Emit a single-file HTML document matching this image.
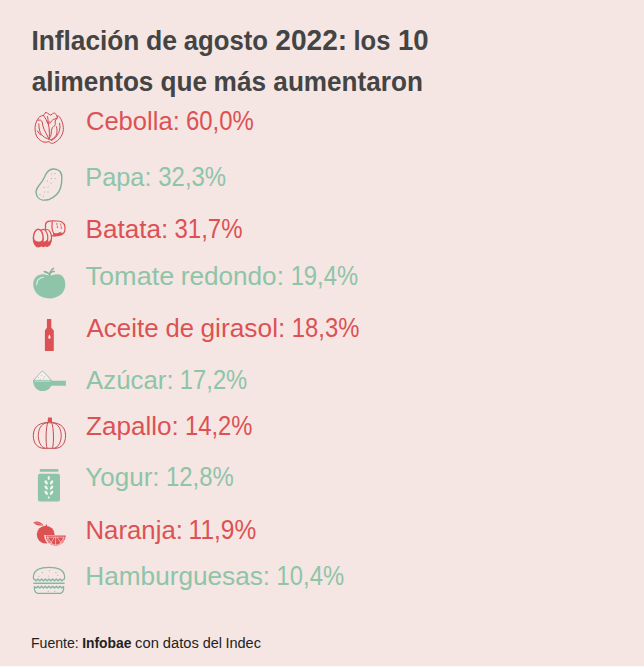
<!DOCTYPE html>
<html lang="es"><head><meta charset="utf-8"><title>Inflación de agosto 2022: los 10 alimentos que más aumentaron</title>
<style>
html,body{margin:0;padding:0}
body{width:644px;height:667px;background:#f5e6e3;position:relative;overflow:hidden;font-family:"Liberation Sans",Arial,sans-serif}
.w{position:absolute;left:0;top:0;white-space:nowrap;line-height:1;transform-origin:0 0;margin:0}
.h{font-size:28px;font-weight:700;color:#444}
.r{font-size:26.5px;color:#dc5254}
.g{font-size:26.5px;color:#8ec4a8}
.f{font-size:14px;color:#222}
.b{font-weight:700}
.ic{position:absolute;overflow:visible}
.row{position:absolute;left:0;top:0;margin:0;padding:0;font-size:14px;font-weight:400;line-height:1}
</style></head><body>
<h1 class="row"><span class="w h" style="transform:translate(31.40px,27.43px) scaleX(0.9380)">Inflación</span> <span class="w h" style="transform:translate(145.88px,27.43px) scaleX(0.9513)">de</span> <span class="w h" style="transform:translate(183.83px,27.43px) scaleX(0.9168)">agosto</span> <span class="w h" style="transform-origin:0 23.70px;transform:translate(275.32px,27.43px) scale(1.0028,1.050)">2022:</span> <span class="w h" style="transform:translate(353.44px,27.43px) scaleX(0.9118)">los</span> <span class="w h" style="transform-origin:0 23.70px;transform:translate(398.06px,27.43px) scale(0.9829,1.050)">10</span></h1>
<h1 class="row"><span class="w h" style="transform:translate(31.63px,68.28px) scaleX(0.9313)">alimentos</span> <span class="w h" style="transform:translate(160.56px,68.28px) scaleX(0.9347)">que</span> <span class="w h" style="transform:translate(213.60px,68.28px) scaleX(0.9373)">más</span> <span class="w h" style="transform:translate(273.37px,68.28px) scaleX(0.9331)">aumentaron</span></h1>
<div class="row"><span class="w r" style="transform:translate(85.90px,108.44px) scaleX(0.9659)">Cebolla:</span> <span class="w r" style="transform-origin:0 22.43px;transform:translate(185.89px,108.44px) scale(0.9040,1.045)">60,0%</span></div>
<div class="row"><span class="w g" style="transform:translate(85.35px,164.34px) scaleX(0.9540)">Papa:</span> <span class="w g" style="transform-origin:0 22.43px;transform:translate(158.28px,164.34px) scale(0.9032,1.045)">32,3%</span></div>
<div class="row"><span class="w r" style="transform:translate(85.48px,216.49px) scaleX(0.9872)">Batata:</span> <span class="w r" style="transform-origin:0 22.43px;transform:translate(174.46px,216.49px) scale(0.9058,1.045)">31,7%</span></div>
<div class="row"><span class="w g" style="transform:translate(85.52px,263.44px) scaleX(1.0217)">Tomate</span> <span class="w g" style="transform:translate(180.77px,263.44px) scaleX(0.9859)">redondo:</span> <span class="w g" style="transform-origin:0 22.43px;transform:translate(290.65px,263.44px) scale(0.8969,1.045)">19,4%</span></div>
<div class="row"><span class="w r" style="transform:translate(86.44px,315.44px) scaleX(0.9797)">Aceite</span> <span class="w r" style="transform:translate(165.45px,315.44px) scaleX(0.9661)">de</span> <span class="w r" style="transform:translate(200.44px,315.44px) scaleX(0.9936)">girasol:</span> <span class="w r" style="transform-origin:0 22.43px;transform:translate(291.76px,315.44px) scale(0.9004,1.045)">18,3%</span></div>
<div class="row"><span class="w g" style="transform:translate(86.08px,367.44px) scaleX(0.9743)">Azúcar:</span> <span class="w g" style="transform-origin:0 22.43px;transform:translate(179.83px,367.44px) scale(0.8971,1.045)">17,2%</span></div>
<div class="row"><span class="w r" style="transform:translate(85.93px,413.44px) scaleX(0.9858)">Zapallo:</span> <span class="w r" style="transform-origin:0 22.43px;transform:translate(184.99px,413.44px) scale(0.8991,1.045)">14,2%</span></div>
<div class="row"><span class="w g" style="transform:translate(85.27px,464.34px) scaleX(0.9826)">Yogur:</span> <span class="w g" style="transform-origin:0 22.43px;transform:translate(165.92px,464.34px) scale(0.9026,1.045)">12,8%</span></div>
<div class="row"><span class="w r" style="transform:translate(85.51px,516.54px) scaleX(0.9722)">Naranja:</span> <span class="w r" style="transform-origin:0 22.43px;transform:translate(188.56px,516.54px) scale(0.9256,1.045)">11,9%</span></div>
<div class="row"><span class="w g" style="transform:translate(85.28px,563.44px) scaleX(0.9882)">Hamburguesas:</span> <span class="w g" style="transform-origin:0 22.43px;transform:translate(276.54px,563.44px) scale(0.8988,1.045)">10,4%</span></div>
<p class="row"><span class="w f" style="transform:translate(30.90px,636.24px) scaleX(1.0085)">Fuente:</span> <span class="w f b" style="transform:translate(82.18px,636.24px) scaleX(0.9905)">Infobae</span> <span class="w f" style="transform:translate(135.09px,636.24px) scaleX(1.0508)">con</span> <span class="w f" style="transform:translate(162.85px,636.24px) scaleX(1.0477)">datos</span> <span class="w f" style="transform:translate(202.67px,636.24px) scaleX(1.0298)">del</span> <span class="w f" style="transform:translate(225.38px,636.24px) scaleX(1.0379)">Indec</span></p>
<svg class="ic" style="left:28px;top:106px" width="40" height="40" viewBox="0 0 40 40"><g fill="none" stroke="#cb4851" stroke-width="1" stroke-linecap="round" stroke-linejoin="round">
<path d="M17.4,6.6 C16.5,7.8 16,9 15.4,9.4 C14,9.6 13,10 12,10.5 C10.8,11.3 10.2,12.3 9.7,13.4 C8.8,14.5 8.3,15.6 8,16.8 C7.4,18.3 7.1,19.8 7.1,21.4 C7,23.2 7.1,25 7.4,26.5 C7.8,28.2 8.3,29.7 9.1,31 C10.1,32.5 11.2,33.7 12.5,34.5 C14,35.6 15.6,36.1 17.1,36.2 C18.5,36.2 19.9,36 21.1,35.6 C21.8,36.4 22.5,37 23.4,37.3 C24.2,37.5 24.9,37.3 25.6,37 C27.1,36.3 28.4,35.5 29.6,34.5 C31.2,33.3 32.3,32 33,30.5 C34,29 34.6,27.5 35,25.9 C35.4,24.4 35.5,22.9 35.3,21.4 C35.2,19.6 34.8,17.8 34.2,16.2 C33.7,14.8 33.2,13.4 32.5,12.3 C32,11.4 31.4,10.7 30.8,10.3 C30.2,10 29.6,9.9 29,10"/>
<path d="M17.4,6.6 C18.1,6.5 18.8,6.7 19.4,7.1 C20,7.5 20.5,7.9 21.1,8.3 C21.7,8.7 22.3,9 22.8,9.1 C23.4,8.6 23.9,8.1 24.5,7.7 C25.2,7.3 25.8,7.1 26.5,7.1 C27.1,7.3 27.6,7.7 27.9,8.3 C28.4,9 28.8,9.7 29,10.5 C29.2,11.1 29.3,11.6 29.3,12.3"/>
<path d="M9.7,14.2 C10.7,14 11.7,14 12.5,14.2 C13.4,14.6 14,15.3 14.3,16.2 C14.6,17.4 14.7,18.6 14.8,19.7 C15.2,21 15.7,22.4 16.2,23.6 C16.8,25 17.5,26.3 18.2,27.6 C18.9,29 19.6,30.3 20.2,31.6 L21.1,33"/>
<path d="M10.8,17.9 C10.9,19.2 11,20.6 11.1,21.9 C11.3,23.5 11.7,25 12.3,26.5 C12.9,27.8 13.8,29 14.8,29.9 C15.9,30.9 17,31.7 18.2,32.2 C19.1,32.6 20.1,32.8 21.1,33"/>
<path d="M21.1,33 C21.3,31.2 21.4,29.4 21.4,27.6 C21.4,25.7 21.3,23.8 21.1,21.9 C20.9,20.4 20.6,18.8 20.2,17.4 C20,16 20,14.7 20,13.4 C19.9,12.4 19.7,11.4 19.4,10.5"/>
<path d="M15.4,9.4 C16.3,10.5 17.2,12 18,13.4 C18.6,14.7 19.1,16 19.5,17.2"/>
<path d="M21.1,33 C21.7,31.6 22.4,30.2 23.1,28.8 C23.3,27.5 23.3,26.1 23.4,24.8 C23.6,23.6 24,22.5 24.5,21.4 C25.2,20.7 26,20.2 26.8,19.7 C27.1,19 27.3,18.2 27.3,17.4 C27.2,16.6 27.1,15.8 27.1,15.1 C27.5,14.3 28,13.5 28.5,12.8 C28.8,12.4 29,12 29.3,11.7"/>
<path d="M21.7,17.4 C22.3,16.6 22.8,15.8 23.4,15.1 C24.1,14.4 24.8,13.8 25.6,13.4 C26.6,13 27.5,12.6 28.5,12.3"/>
<path d="M28.5,20.8 C28.8,22.1 29,23.5 29,24.8 C29,26.2 28.8,27.5 28.5,28.8 C27.7,30.1 26.7,31.3 25.6,32.2 C24.5,33 23.4,33.6 22.2,33.9"/>
<path d="M31.6,17.4 C31.9,18.9 32,20.4 31.9,21.9 C31.7,23.5 31.3,25 30.8,26.5 C30,28.2 29,29.7 27.9,31 C26.6,32.4 25.1,33.6 23.4,34.5"/>
<path d="M9.4,24.8 C10.5,26.5 11.6,28 12.8,29.2"/>
</g>
<path d="M18.4,14.6 C19.2,15 19.8,15.6 20.2,16.2 C20.8,15.4 21.3,14.8 21.9,14.4 C21.7,16 21.2,17.3 20.5,18.6 C19.6,17.5 18.8,16.1 18.4,14.6 Z" fill="#dc5254" opacity="0.85"/></svg>
<svg class="ic" style="left:28px;top:164px" width="40" height="40" viewBox="0 0 40 40"><path d="M24.8,5 C29,4.5 33.8,7 33.8,12.5 C34,17 33.5,21 32.5,24 C31,29 27,33 21,35.5 C16,37 11,36 9,32 C7.5,29 8,25 11,21.5 C13.5,18.5 15,16.5 16.5,13 C18,9 20,5.5 24.8,5 Z" fill="none" stroke="#80af97" stroke-width="1.4"/>
<g fill="#9aa79d"><circle cx="23.5" cy="10" r="0.55"/><circle cx="27" cy="9.5" r="0.55"/><circle cx="23.5" cy="14.5" r="0.55"/><circle cx="27" cy="14.5" r="0.55"/><circle cx="19.5" cy="17" r="0.55"/><circle cx="23" cy="19" r="0.55"/><circle cx="16" cy="23.5" r="0.55"/><circle cx="20" cy="23" r="0.55"/><circle cx="16.5" cy="28" r="0.55"/><circle cx="20" cy="28" r="0.55"/><circle cx="12" cy="30.5" r="0.55"/><circle cx="15.5" cy="32" r="0.55"/></g></svg>
<svg class="ic" style="left:28px;top:214px" width="40" height="40" viewBox="0 0 40 40"><g transform="translate(4,4)">
<path d="M13.6,6 C14,4.4 15.5,3.3 17.6,3.1 C20,2.9 23,2.9 25,3 C27,3.1 28.7,3.3 29.9,4 C31.6,5 32.7,6.6 32.9,8.5 C33.1,10.2 33.1,11.8 32.7,13.3 C32.3,14.6 31.6,15.4 30.6,15.9 C29.5,16.7 28.2,17.1 26.9,17.4 C24.5,17.8 22,17.9 19.5,17.9 L13.4,12 Z" fill="#f5e6e3" stroke="#dc5254" stroke-width="1.25" stroke-linejoin="round"/>
<path d="M21.3,15 C23,14.8 24,15.6 25.2,15.3 C26.5,15 27.5,14.2 28.8,14.4 C29.6,14.5 30.2,14.8 30.8,15.6 C29.6,16.7 28.2,17.1 26.9,17.4 C25,17.7 23,17.9 21.3,17.9 Z" fill="#dc5254"/>
<path d="M20.2,3.8 C20.1,6 19.9,8.3 20,10.3 C20.2,12.2 20.8,13.8 21.7,15.2 C22,16 22.3,16.8 22.5,17.6" fill="none" stroke="#dc5254" stroke-width="1.2" stroke-linecap="round"/>
<g stroke="#dc5254" stroke-width="0.9" stroke-linecap="round"><path d="M24.9,5.3 L25,6.6 M25.3,8 L25.4,9.6 M28.7,5.8 L28.8,7.2 M29.2,8.6 L29.3,10.6"/></g>
<ellipse cx="15" cy="20" rx="4.5" ry="8.5" fill="#f5e6e3" stroke="#dc5254" stroke-width="1.2"/>
<path d="M10.6,20 C10.6,24.5 11.8,28.5 15,28.5 C18,28.5 19.3,25 19.4,20.6 C18,23.2 16.5,24 14.8,23.8 C13,23.5 11.4,22 10.6,20Z" fill="#dc5254"/>
<ellipse cx="11.2" cy="20" rx="4.6" ry="8.6" fill="#f5e6e3" stroke="#dc5254" stroke-width="1.2"/>
<path d="M6.6,20 C6.6,24.5 7.8,28.7 11.2,28.7 C14.4,28.7 15.6,25 15.7,20.6 C14.4,23.2 12.8,24 11,23.8 C9.2,23.5 7.5,22 6.6,20Z" fill="#dc5254"/>
<ellipse cx="6.3" cy="20" rx="4.9" ry="8.7" fill="#f5e6e3" stroke="#dc5254" stroke-width="1.5"/>
<path d="M1.5,20 C1.5,25 3,28.8 6.3,28.8 C9.6,28.8 11.1,25 11.1,20.5 C10,23 8,23.8 6.2,23.6 C4,23.4 2.3,22 1.5,20Z" fill="#dc5254"/>
</g></svg>
<svg class="ic" style="left:28px;top:262px" width="40" height="40" viewBox="0 0 40 40"><path d="M5.2,22.5 C5,16 9.5,12.2 15,12.3 C18,12.4 20,13.6 21.5,13.6 C23,13.6 26,12.1 30,12.2 C35,12.5 37.3,17 37.3,22.5 C37.3,30.5 31,36.4 21.3,36.4 C11.5,36.4 5.4,30 5.2,22.5 Z" fill="#8ec4a8"/>
<path d="M8.8,22.6 C8.6,19 11,15.6 15.3,15.2" fill="none" stroke="#dff0e6" stroke-width="1.1" stroke-linecap="round"/>
<g fill="none" stroke="#84b49b" stroke-width="1.6" stroke-linecap="round"><path d="M21.6,13.5 C21.8,10.5 23,8 25.5,6.3"/><path d="M21.3,12.2 C19.5,10.6 18,9.8 16.3,9.6"/><path d="M22.3,11 C23.5,9.8 24.8,9.4 26.2,9.5"/></g></svg>
<svg class="ic" style="left:28px;top:312px" width="40" height="40" viewBox="0 0 40 40"><path d="M19.2,7 L23,7 Q23.3,7 23.3,7.5 L23.3,15.8 L25.8,18.6 L25.8,38.4 Q25.8,38.9 25.3,38.9 L17.4,38.9 Q16.9,38.9 16.9,38.4 L16.9,18.6 L18.9,15.8 L18.9,7.5 Q18.9,7 19.2,7 Z" fill="#dc5254"/>
<path d="M21.4,22.2 C21.1,23 20.2,24.6 20.2,25.4 C20.2,26.1 20.8,26.7 21.4,26.7 C22.1,26.7 22.6,26.1 22.6,25.4 C22.6,24.6 21.7,23 21.4,22.2 Z" fill="#fde6e3"/></svg>
<svg class="ic" style="left:28px;top:364px" width="40" height="40" viewBox="0 0 40 40"><path d="M5.8,16.3 C8,13.5 11,10 13.4,7.7 Q14.4,6.8 15.4,7.7 C18,10.2 21,13.5 23.4,16.4 Z" fill="#f8efec" stroke="#8fb3a0" stroke-width="0.8" stroke-linejoin="round"/>
<path d="M5,16 L23.9,16 L23.9,16.8 L37.9,16.8 L37.9,21.7 L23.2,21.7 C21.8,25 18.6,27.1 14.45,27.1 C8.9,27.1 5,22.6 5,16 Z" fill="#8ec4a8"/>
<line x1="6.5" y1="17.1" x2="22.5" y2="17.1" stroke="#d6eee0" stroke-width="0.8"/>
<g fill="#a8b5ab"><circle cx="10.5" cy="13.2" r="0.5"/><circle cx="13.3" cy="11.2" r="0.5"/><circle cx="15.8" cy="14.2" r="0.5"/><circle cx="12.2" cy="15.3" r="0.5"/><circle cx="16.5" cy="12.2" r="0.5"/></g></svg>
<svg class="ic" style="left:28px;top:410px" width="40" height="40" viewBox="0 0 40 40"><path d="M20,7.5 L23.8,7.5 L24.2,12.3 L19.6,12.3 Z" fill="#dc5254"/>
<g fill="none" stroke="#bf424c" stroke-width="0.95">
<path d="M21.5,12.8 C14,12 5.3,15 5.3,25.5 C5.3,34 10,38.3 16,38.3 L27,38.3 C33,38.3 37.6,34 37.6,25.5 C37.6,15 29,12 21.5,12.8 Z"/>
<path d="M19,12.6 C12.5,14 10.3,20 10.3,25.5 C10.3,32 13,37 17,38.2"/>
<path d="M24.5,12.6 C31,14 33.2,20 33.2,25.5 C33.2,32 30.5,37 26.5,38.2"/>
<path d="M19.8,12.6 C17.8,17 17.6,33 19,38.2"/>
<path d="M23.6,12.6 C25.8,17 26,33 24.5,38.2"/>
</g></svg>
<svg class="ic" style="left:28px;top:465px" width="40" height="40" viewBox="0 0 40 40"><rect x="11.8" y="4" width="18.6" height="2.8" rx="0.6" fill="#8ec4a8"/>
<rect x="9.9" y="8.7" width="22.1" height="27.9" rx="2.2" fill="#8ec4a8"/>
<g fill="#eef5ef">
<ellipse cx="20.8" cy="13" rx="1.15" ry="2.1"/>
<ellipse cx="18.2" cy="17.4" rx="1.3" ry="2.4" transform="rotate(-35 18.2 17.4)"/>
<ellipse cx="23.6" cy="17.4" rx="1.3" ry="2.4" transform="rotate(35 23.6 17.4)"/>
<ellipse cx="18.2" cy="22.6" rx="1.3" ry="2.4" transform="rotate(-35 18.2 22.6)"/>
<ellipse cx="23.6" cy="22.6" rx="1.3" ry="2.4" transform="rotate(35 23.6 22.6)"/>
<ellipse cx="18.2" cy="27.8" rx="1.3" ry="2.4" transform="rotate(-35 18.2 27.8)"/>
<ellipse cx="23.6" cy="27.8" rx="1.3" ry="2.4" transform="rotate(35 23.6 27.8)"/>
<ellipse cx="20.8" cy="32.6" rx="1.1" ry="1.1"/>
</g></svg>
<svg class="ic" style="left:28px;top:512px" width="40" height="40" viewBox="0 0 40 40"><circle cx="17.7" cy="22.6" r="8.9" fill="#dc5254"/>
<path d="M5.3,10.4 C8,8.6 12.6,9 15.7,13.3 C12,14 7.8,13.2 5.3,10.4 Z" fill="#dc5254"/>
<path d="M6.8,10.6 C9.5,11 12.2,11.8 14.8,13" stroke="#f0aaa8" stroke-width="0.6" fill="none"/>
<path d="M18.5,14 L18.4,12.5" stroke="#dc5254" stroke-width="1.3"/>
<path d="M16.2,23 L39,23 A11.4,11.6 0 0 1 16.2,23 Z" fill="#f5e6e3"/>
<path d="M17.6,23.6 L37.8,23.6 A10.1,10.1 0 0 1 17.6,23.6 Z" fill="#dc5254"/>
<g fill="none" stroke="#f7cfcc" stroke-width="0.7" stroke-linecap="round">
<path d="M19.2,25.1 L36.2,25.1 A8.5,7.9 0 0 1 19.2,25.1 Z"/>
<path d="M19.6,25.3 L24.8,32.7 M26.1,25.4 L22.3,32.2 M27.6,25.1 L27.6,33 M29.1,25.3 L33.5,31.4 M35.7,25.3 L31.6,32.5"/>
</g></svg>
<svg class="ic" style="left:28px;top:558px" width="40" height="40" viewBox="0 0 40 40"><rect x="6.5" y="22.3" width="29" height="2.3" fill="#d3ecdd"/><rect x="7" y="29.6" width="28" height="1.4" fill="#e3efe6"/>
<g fill="none" stroke="#84b29a" stroke-width="1.2" stroke-linejoin="round">
<path d="M6.3,21.7 C5.1,21 5.2,19 5.6,17 C6.6,12.2 12,9.3 21,9.3 C30,9.3 35.5,12.2 36.4,17 C36.8,19 36.9,21 35.7,21.7"/>
<path d="M6.30,21.00 L8.14,22.80 L9.97,21.00 L11.81,22.80 L13.65,21.00 L15.49,22.80 L17.32,21.00 L19.16,22.80 L21.00,21.00 L22.84,22.80 L24.68,21.00 L26.51,22.80 L28.35,21.00 L30.19,22.80 L32.02,21.00 L33.86,22.80 L35.70,21.00"/>
<path d="M5.3,25.3 L36.6,25.3" stroke-width="1.3"/>
<path d="M6.30,28.20 L8.14,30.00 L9.97,28.20 L11.81,30.00 L13.65,28.20 L15.49,30.00 L17.32,28.20 L19.16,30.00 L21.00,28.20 L22.84,30.00 L24.68,28.20 L26.51,30.00 L28.35,28.20 L30.19,30.00 L32.02,28.20 L33.86,30.00 L35.70,28.20"/>
<path d="M6.3,28.6 C6.2,31 6.8,34.8 9.5,35.4 L32.5,35.4 C35.2,34.8 35.8,31 35.7,28.6"/>
</g>
<g fill="#9aa79d"><circle cx="21.3" cy="12.7" r="0.55"/><circle cx="14.3" cy="14.6" r="0.55"/><circle cx="27.9" cy="14.5" r="0.55"/><circle cx="10.9" cy="18.2" r="0.55"/><circle cx="20.3" cy="18" r="0.55"/><circle cx="29.8" cy="17.2" r="0.55"/><circle cx="20.3" cy="33.2" r="0.55"/><circle cx="26.8" cy="33.2" r="0.55"/></g></svg>
<div style="position:absolute;left:0;top:666px;width:644px;height:1px;background:#fbfaf6"></div>
</body></html>
